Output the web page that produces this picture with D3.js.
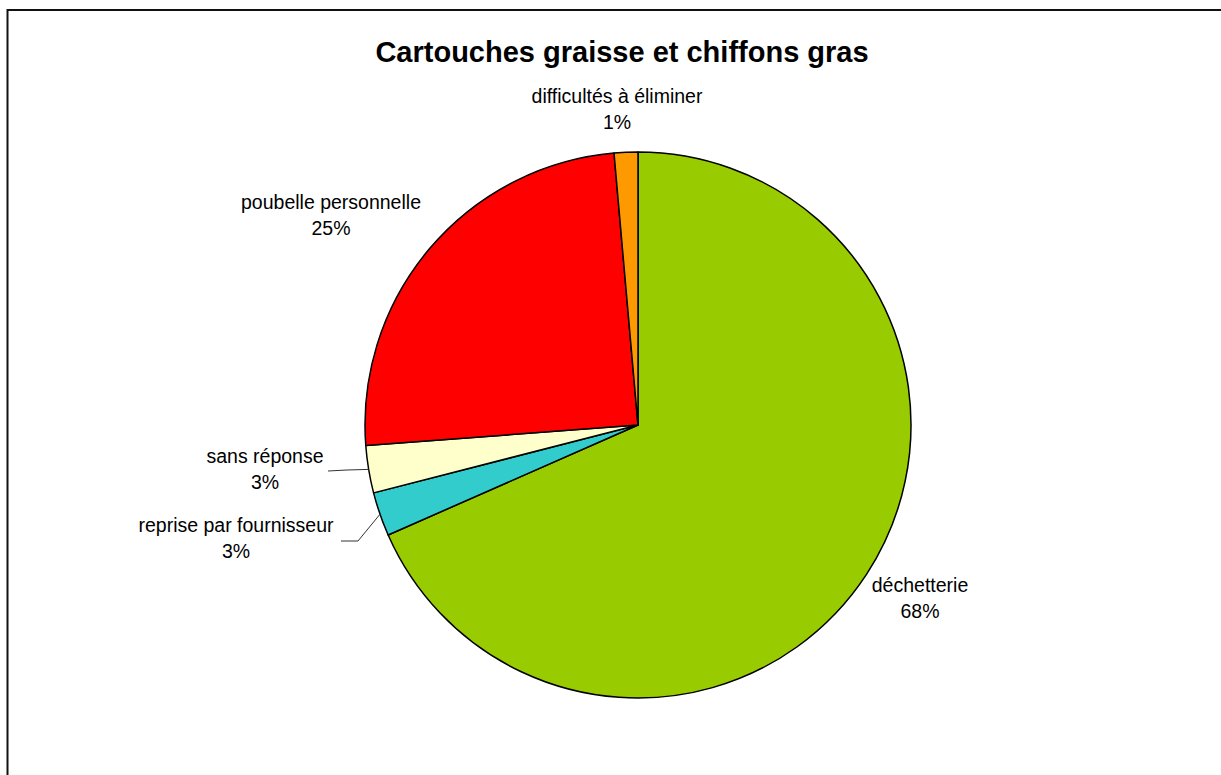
<!DOCTYPE html>
<html>
<head>
<meta charset="utf-8">
<script src="https://cdn.jsdelivr.net/npm/d3@7"></script>
<style>
  html, body { margin: 0; padding: 0; background: #fff; }
  svg { display: block; font-family: "Liberation Sans", Arial, sans-serif; }
</style>
</head>
<body>
<svg id="chart" width="1221" height="775"></svg>
<script>
// ---- data ----
const categories = ["déchetterie", "reprise par fournisseur", "sans réponse", "poubelle personnelle", "difficultés à éliminer"];
const values = [68.4, 2.6, 2.8, 24.8, 1.4];
const colors = ["#99CC00", "#33CCCC", "#FFFFCC", "#FF0000", "#FF9900"];
const title = "Cartouches graisse et chiffons gras";

// ---- layout ----
const W = 1221, H = 775;
const cx = 638, cy = 425, R = 273;
// label placement: [center x, first baseline y], and whether a leader line is drawn
const labelLayout = [
  { x: 920, y: 592, leader: null },
  { x: 236, y: 532, leader: [[358, 541], [341, 541]] },
  { x: 265, y: 463, leader: [[347, 470], [328, 471]] },
  { x: 331, y: 209, leader: null },
  { x: 617, y: 103, leader: null }
];

const svg = d3.select("#chart");

// outer border
svg.append("rect")
  .attr("x", 7.5).attr("y", 10)
  .attr("width", W + 50).attr("height", H + 50)
  .attr("fill", "#fff")
  .attr("stroke", "#111")
  .attr("stroke-width", 2);

// title
svg.append("text")
  .attr("x", 622).attr("y", 62)
  .attr("text-anchor", "middle")
  .attr("font-size", 29)
  .attr("font-weight", "bold")
  .attr("fill", "#000")
  .text(title);

const data = categories.map((c, i) => ({ cat: c, value: values[i], color: colors[i] }));
const pie = d3.pie().sort(null).value(d => d.value).startAngle(0).endAngle(2 * Math.PI);
const arcs = pie(data);
const arc = d3.arc().innerRadius(0).outerRadius(R);
const edgeArc = d3.arc().innerRadius(R).outerRadius(R);

const g = svg.append("g").attr("transform", `translate(${cx},${cy})`);
g.selectAll("path.slice")
  .data(arcs)
  .join("path")
  .attr("class", "slice")
  .attr("d", arc)
  .attr("fill", d => d.data.color)
  .attr("stroke", "#000")
  .attr("stroke-width", 1.5)
  .attr("stroke-linejoin", "round");

// leader lines
arcs.forEach((a, i) => {
  const L = labelLayout[i];
  if (!L.leader) return;
  const p = edgeArc.centroid(a);
  const pts = [[cx + p[0], cy + p[1]], ...L.leader];
  svg.append("path")
    .attr("d", d3.line()(pts))
    .attr("fill", "none")
    .attr("stroke", "#333")
    .attr("stroke-width", 1);
});

// labels
const total = d3.sum(values);
arcs.forEach((a, i) => {
  const L = labelLayout[i];
  const t = svg.append("text")
    .attr("text-anchor", "middle")
    .attr("font-size", 19.5)
    .attr("fill", "#000");
  t.append("tspan").attr("x", L.x).attr("y", L.y).text(a.data.cat);
  t.append("tspan").attr("x", L.x).attr("y", L.y + 26)
    .text(Math.round(a.data.value / total * 100) + "%");
});
</script>
</body>
</html>
